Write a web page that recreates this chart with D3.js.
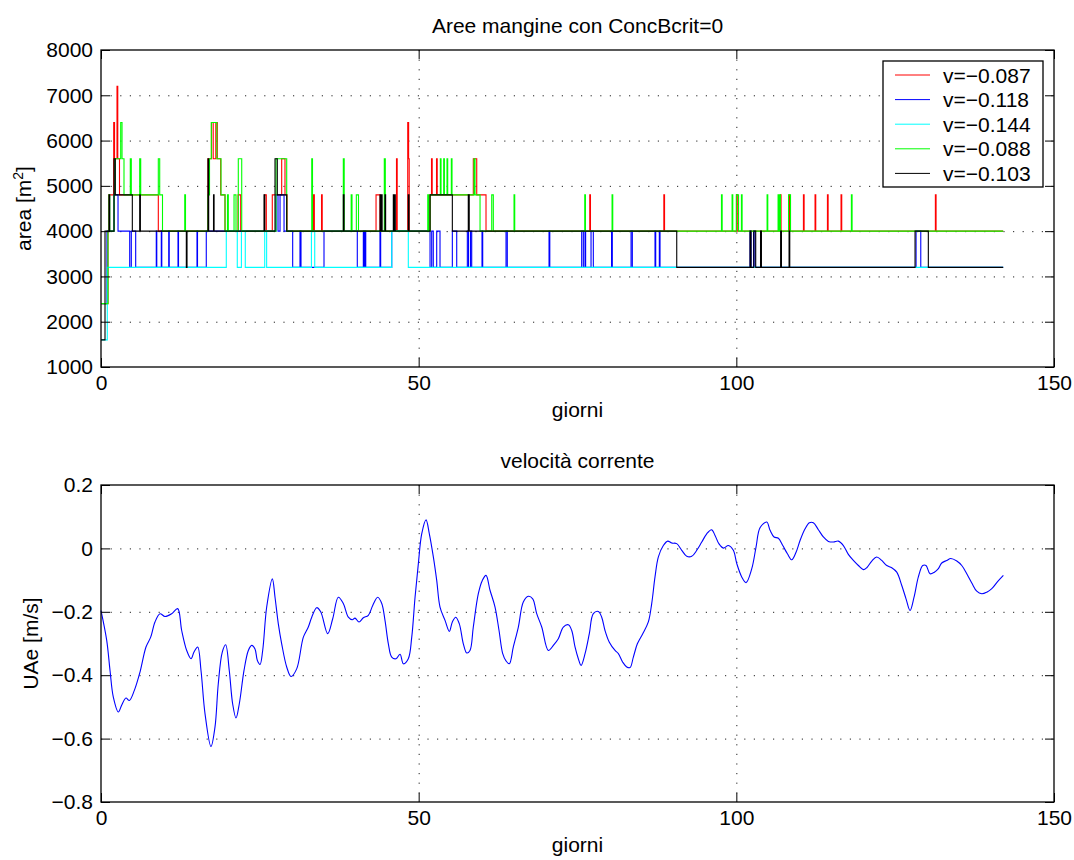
<!DOCTYPE html>
<html>
<head>
<meta charset="utf-8">
<script src="https://cdn.jsdelivr.net/npm/d3@7"></script>
<style>
    body { margin: 0; background: #fff; }
    svg { font-family: "Liberation Sans", Arial, Helvetica, sans-serif; }
    .grid line { stroke: #222; stroke-width: 1; stroke-dasharray: 1.2, 8.4; }
    .axis text { font-size: 21px; fill: #000; }
    .axis line { stroke: #000; stroke-width: 1; }
    .label { font-size: 21px; fill: #000; }
</style>
</head>
<body>
<svg id="chart" width="1074" height="860"></svg>
<script>
// ---------- data ----------
const seriesNames = ["v=\u22120.087", "v=\u22120.118", "v=\u22120.144", "v=\u22120.088", "v=\u22120.103"];
const seriesColors = ["#ff0000", "#0000ff", "#00ffff", "#00ff00", "#000000"];

// step series: [giorno, area m2] at each change
const redSteps = [[0,2400],[1.10,4000],[1.26,4800],[2.00,6400],[2.13,5600],[2.52,7200],[2.64,5600],[2.91,4800],
    [9.02,4000],[16.84,5600],[17.39,6400],[17.66,5600],[18.07,6400],[18.31,5600],[18.84,4800],[19.52,4000],
    [21.57,4800],[21.99,4000],[25.77,4800],[26.02,4000],[26.96,4800],[28.44,5600],[28.96,4800],[29.28,4000],
    [33.45,4800],[33.58,4000],[34.71,4800],[34.82,4000],[43.29,4800],[43.92,4000],[46.51,5600],[46.62,4000],
    [48.28,6400],[48.42,5600],[48.51,4000],[51.79,4800],[52.02,5600],[52.13,4800],[52.81,5600],[52.92,4800],
    [58.60,5600],[59.14,4800],[60.60,4000],[76.93,4800],[77.04,4000],[88.59,4800],[88.70,4000],
    [100.03,4800],[100.14,4000],[106.93,4800],[107.04,4000],[108.30,4800],[108.41,4000],[110.56,4800],[110.67,4000],
    [112.39,4800],[112.50,4000],[114.34,4800],[114.45,4000],[116.48,4800],[116.59,4000],[131.33,4800],[131.44,4000],
    [142,4000]];

const blueSteps = [[0,2400],[0.94,4000],[2.05,4800],[2.68,4000],[4.52,3200],[4.77,4000],[5.46,3200],
    [8.70,4000],[8.78,3200],[9.49,4000],[9.57,3200],[10.66,4000],[10.74,3200],[12.12,4000],[12.20,3200],
    [15.11,4000],[15.19,3200],[16.57,4000],[27.55,4800],[27.86,4000],[28.18,4800],[28.81,4000],[30.17,3200],
    [31.32,4000],[31.48,3200],[35.10,4000],[40.34,3200],[41.29,4000],[41.40,3200],[41.56,4000],[41.67,3200],
    [43.91,4000],[44.02,3200],[45.76,4000],[51.79,3200],[52.05,4000],[52.30,3200],[52.84,4000],[53.36,3200],
    [55.30,4000],[55.99,3200],[57.66,4000],[57.85,3200],[58.16,4000],[58.35,3200],[59.97,4000],[60.08,3200],
    [63.75,4000],[63.95,3200],[70.52,4000],[70.64,3200],[75.66,4000],[75.92,3200],[76.18,4000],[76.28,3200],
    [77.13,4000],[77.49,3200],[80.36,4000],[80.48,3200],[83.43,4000],[83.63,3200],[87.20,4000],[87.31,3200],
    [87.88,4000],[87.99,3200],[102.16,4000],[102.31,3200],[102.71,4000],[102.94,3200],[128.29,4000],[129.03,3200],
    [142,3200]];

const cyanSteps = [[0,1600],[0.99,3200],[19.72,4000],[21.45,3200],[22.10,4000],[22.71,3200],[25.77,4000],[26.07,3200],
    [33.12,4000],[33.64,3200],[45.76,4000],[48.37,3200],[142,3200]];

const greenSteps = [[0,2400],[1.10,4000],[1.26,4800],[1.37,4000],[2.05,4800],[2.20,5600],[3.10,6400],[3.31,5600],
    [3.62,4800],[4.61,5600],[4.77,4800],[6.09,5600],[6.25,4800],[9.02,5600],[9.24,4800],[9.68,4000],
    [13.18,4800],[13.30,4000],[16.84,4800],[17.08,5600],[17.36,6400],[18.23,5600],[18.89,4800],[19.52,4000],
    [19.91,4800],[20.04,4000],[20.94,4800],[21.25,4000],[21.61,5600],[22.15,4000],[27.55,5600],[29.23,4000],
    [33.17,5600],[33.29,4000],[38.14,5600],[38.28,4000],[39.38,4800],[39.51,4000],[40.19,4800],[40.53,4000],
    [44.59,5600],[44.75,4000],[51.43,4800],[51.54,4000],[51.79,4800],[53.41,5600],[53.52,4800],[53.94,5600],
    [54.05,4800],[54.46,5600],[54.57,4800],[55.14,5600],[55.25,4800],[58.71,5600],[58.87,4800],[59.66,4000],
    [61.50,4800],[61.75,4000],[65.01,4800],[65.12,4000],[76.14,4800],[76.25,4000],[80.44,4800],[80.55,4000],
    [97.66,4800],[97.77,4000],[99.33,4800],[99.44,4000],[100.00,4800],[100.35,4000],[100.80,4800],[100.91,4000],
    [104.84,4800],[104.95,4000],[106.57,4800],[106.68,4000],[106.82,4800],[106.94,4000],[108.22,4800],[108.53,4000],
    [118.11,4800],[118.22,4000],[142,4000]];

const blackSteps = [[0,1600],[0.63,4000],[1.26,4800],[1.37,4000],[2.05,5600],[2.25,4800],[4.93,4000],[6.09,4800],
    [6.20,4000],[13.43,3200],[13.54,4000],[16.84,5600],[16.95,4000],[17.71,4800],[17.80,4000],[25.66,4800],
    [25.77,4000],[27.39,5600],[27.75,4800],[29.23,4000],[38.14,4800],[38.25,4000],[43.92,4800],[44.04,4000],
    [44.15,4800],[44.25,4000],[44.70,4800],[44.80,4000],[46.01,4800],[46.12,4000],[46.23,4800],[46.32,4000],
    [48.37,4800],[48.48,4000],[51.79,4800],[55.30,4000],[57.81,4800],[57.96,4000],[90.62,3200],[102.16,4000],
    [102.31,3200],[102.75,4000],[103.05,3200],[103.81,4000],[103.95,3200],[106.97,4000],[107.10,3200],
    [108.30,4000],[108.41,3200],[128.13,4000],[130.22,3200],[142,3200]];

const areaSeries = [redSteps, blueSteps, cyanSteps, greenSteps, blackSteps];

// velocita corrente
const velDays = [0,0.9,1.42,1.94,2.73,3.25,3.93,4.46,5.25,6.14,7.08,7.82,8.5,9.29,10.07,11.12,12.07,12.7,13.49,14.17,
    14.64,15.22,15.74,16.37,17.31,17.94,18.46,19.09,19.62,20.19,20.72,21.25,21.77,22.51,23.19,23.72,24.24,24.6,25.03,
    25.45,26.08,26.97,27.39,27.91,28.44,29.23,29.91,30.8,31.85,32.63,33.17,33.95,34.58,35.68,36.47,37.35,38.14,38.93,
    39.56,39.98,40.61,41.29,42.08,42.77,43.55,44.19,44.7,45.23,45.76,46.44,47.07,47.59,48.37,48.91,49.43,49.95,50.48,
    51.16,51.68,52.31,52.84,53.36,54.15,54.83,55.3,55.84,56.4,57.03,57.57,58.08,58.6,59.39,60.02,60.6,61.23,62.02,
    62.65,63.23,63.75,64.27,64.9,65.69,66.47,67.26,67.95,68.58,69.37,70.41,71.2,71.98,72.77,73.56,74.09,74.61,75.13,
    75.56,76.19,76.86,77.49,78.28,78.81,79.33,80.01,80.91,81.43,82.12,82.75,83.27,83.79,84.42,85.27,86.15,86.68,87.2,
    87.73,88.51,89.2,89.83,90.62,91.41,92.2,92.98,93.77,94.56,95.34,96.1,96.65,97.25,97.96,98.75,99.53,100.07,100.85,
    101.53,102.43,103.1,103.73,104.79,105.31,105.94,106.62,107.31,108.04,108.73,109.4,110.03,110.82,111.5,112.12,
    112.91,113.7,114.49,115.28,116.06,116.85,117.63,118.42,119.21,119.99,120.53,121.32,122.1,122.89,123.68,124.46,
    125.25,126.04,126.71,127.34,127.97,128.65,129.34,129.86,130.49,131.17,131.8,132.33,133.12,133.75,134.7,135.48,
    136.27,137.06,137.84,138.63,139.42,140.21,141.15,142.03];
const velValues = [-0.196,-0.29,-0.385,-0.469,-0.516,-0.495,-0.472,-0.48,-0.448,-0.39,-0.311,-0.28,-0.232,-0.206,-0.215,
    -0.206,-0.19,-0.259,-0.322,-0.348,-0.327,-0.311,-0.385,-0.521,-0.625,-0.564,-0.427,-0.327,-0.304,-0.385,-0.49,-0.535,
    -0.49,-0.385,-0.322,-0.306,-0.317,-0.353,-0.366,-0.322,-0.185,-0.096,-0.154,-0.238,-0.301,-0.374,-0.404,-0.38,-0.28,
    -0.248,-0.217,-0.187,-0.2,-0.269,-0.222,-0.154,-0.174,-0.217,-0.225,-0.22,-0.232,-0.219,-0.211,-0.18,-0.154,-0.174,
    -0.227,-0.301,-0.343,-0.348,-0.334,-0.364,-0.348,-0.28,-0.154,-0.048,0.046,0.09,0.046,-0.027,-0.101,-0.185,-0.227,
    -0.262,-0.232,-0.217,-0.238,-0.301,-0.33,-0.322,-0.248,-0.143,-0.101,-0.085,-0.132,-0.185,-0.259,-0.332,-0.355,
    -0.364,-0.311,-0.248,-0.169,-0.151,-0.159,-0.206,-0.248,-0.322,-0.306,-0.285,-0.248,-0.241,-0.259,-0.311,-0.348,
    -0.369,-0.332,-0.269,-0.206,-0.199,-0.217,-0.259,-0.296,-0.322,-0.332,-0.359,-0.374,-0.376,-0.343,-0.301,-0.269,
    -0.232,-0.174,-0.09,-0.027,0.009,0.023,0.017,0.015,-0.006,-0.025,-0.025,-0.006,0.02,0.046,0.059,0.041,0.015,0.001,
    0.009,-0.006,-0.048,-0.09,-0.108,-0.064,0.004,0.065,0.083,0.057,0.036,0.032,0.009,-0.017,-0.036,-0.012,0.025,0.062,
    0.081,0.081,0.059,0.036,0.022,0.02,0.023,0.009,-0.019,-0.038,-0.054,-0.067,-0.061,-0.04,-0.027,-0.038,-0.054,-0.061,
    -0.075,-0.117,-0.159,-0.196,-0.154,-0.09,-0.054,-0.054,-0.08,-0.075,-0.064,-0.046,-0.038,-0.032,-0.04,-0.054,-0.08,
    -0.109,-0.135,-0.143,-0.138,-0.127,-0.104,-0.085];

const dayTicks = [0, 50, 100, 150];
const areaTicks = [1000, 2000, 3000, 4000, 5000, 6000, 7000, 8000];
const velTicks = [-0.8, -0.6, -0.4, -0.2, 0, 0.2];

// ---------- panel ----------
class Panel {
    constructor(_config) {
        this.config = {
            parentElement: _config.parentElement,
            left: 101,
            right: 1054,
            top: _config.top,
            bottom: _config.bottom,
            xDomain: _config.xDomain,
            yDomain: _config.yDomain,
            xTicks: _config.xTicks,
            yTicks: _config.yTicks,
            yFormat: _config.yFormat,
            title: _config.title,
            tickLen: 9,
        };
        this.initVis();
    }

    initVis() {
        let vis = this;
        const c = vis.config;

        vis.xScale = d3.scaleLinear().domain(c.xDomain).range([c.left, c.right]);
        vis.yScale = d3.scaleLinear().domain(c.yDomain).range([c.bottom, c.top]);

        vis.svg = d3.select(c.parentElement);
        vis.g = vis.svg.append("g");

        // dotted grid on the inner ticks
        const grid = vis.g.append("g").attr("class", "grid");
        grid.selectAll(".gy")
            .data(c.yTicks.slice(1, -1))
            .join("line")
            .attr("x1", c.left).attr("x2", c.right)
            .attr("y1", (d) => vis.yScale(d) + 0.5).attr("y2", (d) => vis.yScale(d) + 0.5);
        grid.selectAll(".gx")
            .data(c.xTicks.slice(1, -1))
            .join("line")
            .attr("x1", (d) => vis.xScale(d) + 0.5).attr("x2", (d) => vis.xScale(d) + 0.5)
            .attr("y1", c.top).attr("y2", c.bottom);

        vis.plot = vis.g.append("g");
        vis.axesG = vis.g.append("g");
    }

    drawAxes() {
        let vis = this;
        const c = vis.config;
        const t = c.tickLen;

        const xAxis = d3.axisBottom(vis.xScale).tickValues(c.xTicks)
            .tickSizeInner(-t).tickSizeOuter(0).tickPadding(8);
        const yAxis = d3.axisLeft(vis.yScale).tickValues(c.yTicks)
            .tickSizeInner(-t).tickSizeOuter(0).tickPadding(8).tickFormat(c.yFormat);
        const xTop = d3.axisTop(vis.xScale).tickValues(c.xTicks)
            .tickSizeInner(-t).tickSizeOuter(0).tickFormat("");
        const yRight = d3.axisRight(vis.yScale).tickValues(c.yTicks)
            .tickSizeInner(-t).tickSizeOuter(0).tickFormat("");

        const ax = [
            vis.axesG.append("g").attr("transform", `translate(0,${c.bottom})`).call(xAxis),
            vis.axesG.append("g").attr("transform", `translate(${c.left},0)`).call(yAxis),
            vis.axesG.append("g").attr("transform", `translate(0,${c.top})`).call(xTop),
            vis.axesG.append("g").attr("transform", `translate(${c.right},0)`).call(yRight),
        ];
        ax.forEach((a) => {
            a.attr("class", "axis").attr("font-family", null).attr("font-size", null);
            a.select(".domain").remove();
        });

        vis.axesG.append("rect")
            .attr("x", c.left).attr("y", c.top)
            .attr("width", c.right - c.left).attr("height", c.bottom - c.top)
            .attr("fill", "none").attr("stroke", "#000").attr("stroke-width", 1.3);

        // title and x label
        vis.axesG.append("text").attr("class", "label")
            .attr("x", (c.left + c.right) / 2).attr("y", c.top - 17)
            .attr("text-anchor", "middle").text(c.title);
        vis.axesG.append("text").attr("class", "label")
            .attr("x", (c.left + c.right) / 2).attr("y", c.bottom + 50)
            .attr("text-anchor", "middle").text("giorni");
    }
}

// ---------- top: aree ----------
const topPanel = new Panel({
    parentElement: "#chart",
    top: 50, bottom: 367,
    xDomain: [0, 150], yDomain: [1000, 8000],
    xTicks: dayTicks, yTicks: areaTicks,
    yFormat: d3.format("d"),
    title: "Aree mangine con ConcBcrit=0",
});

const stepLine = d3.line()
    .x((d) => topPanel.xScale(d[0]))
    .y((d) => topPanel.yScale(d[1]))
    .curve(d3.curveStepAfter);

topPanel.plot.selectAll(".area-line")
    .data(areaSeries)
    .join("path")
    .attr("class", "area-line")
    .attr("fill", "none")
    .attr("stroke", (d, i) => seriesColors[i])
    .attr("stroke-width", 1.1)
    .attr("d", stepLine);

topPanel.drawAxes();

const yl1 = topPanel.axesG.append("text").attr("class", "label")
    .attr("transform", `translate(31,${(50 + 367) / 2}) rotate(-90)`)
    .attr("text-anchor", "middle");
yl1.append("tspan").text("area [m");
yl1.append("tspan").attr("dy", -8).attr("font-size", 14).text("2");
yl1.append("tspan").attr("dy", 8).text("]");

// legend
const legend = topPanel.axesG.append("g").attr("transform", "translate(883,61)");
legend.append("rect")
    .attr("width", 160).attr("height", 126)
    .attr("fill", "#fff").attr("stroke", "#000").attr("stroke-width", 1.3);
const rows = legend.selectAll(".row")
    .data(seriesNames)
    .join("g")
    .attr("transform", (d, i) => `translate(0,${14 + i * 24.6})`);
rows.append("line")
    .attr("x1", 12).attr("x2", 47)
    .attr("stroke", (d, i) => seriesColors[i]).attr("stroke-width", 1);
rows.append("text").attr("class", "label")
    .attr("x", 60).attr("y", 7.5).text((d) => d);

// ---------- bottom: velocita ----------
const bottomPanel = new Panel({
    parentElement: "#chart",
    top: 485, bottom: 802,
    xDomain: [0, 150], yDomain: [-0.8, 0.2],
    xTicks: dayTicks, yTicks: velTicks,
    yFormat: (d) => (d === 0 ? "0" : d3.format(".1f")(d)),
    title: "velocit\u00e0 corrente",
});

const velLine = d3.line()
    .x((d, i) => bottomPanel.xScale(velDays[i]))
    .y((d) => bottomPanel.yScale(d))
    .curve(d3.curveCatmullRom.alpha(0.5));

bottomPanel.plot.append("path")
    .datum(velValues)
    .attr("fill", "none")
    .attr("stroke", "#0000ff")
    .attr("stroke-width", 1.1)
    .attr("d", velLine);

bottomPanel.drawAxes();

bottomPanel.axesG.append("text").attr("class", "label")
    .attr("transform", `translate(38,${(485 + 802) / 2}) rotate(-90)`)
    .attr("text-anchor", "middle")
    .text("UAe [m/s]");
</script>
</body>
</html>
